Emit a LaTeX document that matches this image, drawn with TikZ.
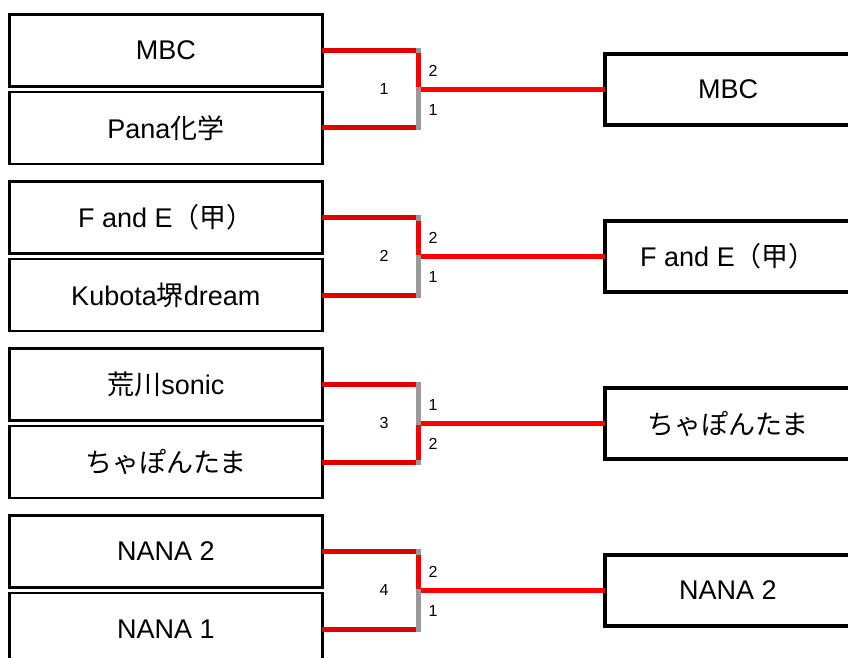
\documentclass[tikz,border=0pt]{standalone}
\usepackage{fontspec}
\setmainfont{Liberation Sans}
\newfontfamily\jp{Noto Sans CJK JP}
\definecolor{redA}{HTML}{E00000}
\definecolor{redB}{HTML}{FF0000}
\definecolor{grayB}{HTML}{999999}
\tikzset{
  teambox/.style={draw=black, line width=2.8pt, minimum width=313pt, minimum height=72pt, inner sep=0pt, outer sep=0pt, font=\fontsize{27}{32}\selectfont},
  winbox/.style={draw=black, line width=3.6pt, minimum width=246pt, minimum height=71pt, inner sep=0pt, outer sep=0pt, font=\fontsize{27}{32}\selectfont},
  hline/.style={line width=5pt, line cap=butt},
  numlabel/.style={inner sep=0pt, font=\fontsize{16}{18}\selectfont}
}
\begin{document}
\begin{tikzpicture}[x=1pt,y=-1pt]
\clip (0,0) rectangle (848,658);
\fill[white] (0,0) rectangle (848,658);
\foreach \k/\ta/\tb/\w/\la/\lb/\ra/\rb in {
  0/MBC/Pana{\jp 化学}/MBC/2/1/2.5/36.5,
  1/F and E{\jp （甲）}/Kubota{\jp 堺}dream/F and E{\jp （甲）}/2/1/2.5/36.5,
  2/{\jp 荒川}sonic/{\jp ちゃぽんたま}/{\jp ちゃぽんたま}/1/2/40/74.5,
  3/NANA 2/NANA 1/NANA 2/2/1/2.5/36.5}{
  \pgfmathsetmacro\dy{167*\k}
  \node[teambox] (a\k) at (165.8,{50.5+\dy}) {\ta};
  \node[teambox] (b\k) at (165.8,{128+\dy}) {\tb};
  \node[winbox] (w\k) at (728,{89.5+\dy}) {\w};
  \coordinate (v\k) at (418,{89.5+\dy});
  % horizontals from the teams
  \draw[redA, hline] (a\k.east) -- ([xshift=-2.5pt]a\k.east -| v\k);
  \draw[redA, hline] (b\k.east) -- ([xshift=-2.5pt]b\k.east -| v\k);
  % bracket
  \draw[grayB, hline] ([yshift=2.5pt]a\k.east -| v\k) -- ([yshift=-2.5pt]b\k.east -| v\k);
  \draw[redB, hline] (418,{51+\ra+\dy}) -- (418,{51+\rb+\dy});
  % to the winner
  \draw[redB, hline] ([xshift=2.5pt]v\k) -- (w\k.west);
  % labels
  \node[numlabel] (m\k) at (384,{89+\dy}) {\the\numexpr\k+1\relax};
  \node[numlabel] (p\k) at (433,{71+\dy}) {\la};
  \node[numlabel] (q\k) at (433,{110+\dy}) {\lb};
}
\end{tikzpicture}
\end{document}
